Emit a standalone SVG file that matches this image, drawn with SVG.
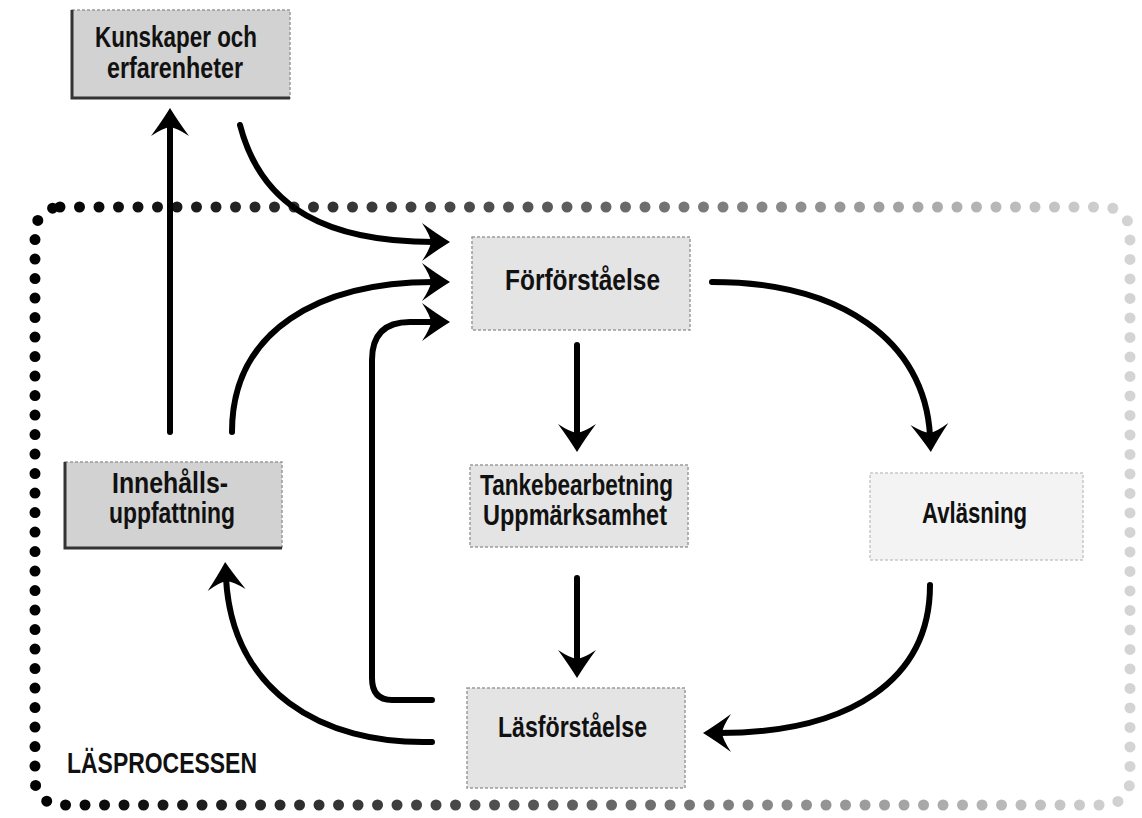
<svg xmlns="http://www.w3.org/2000/svg" width="1142" height="818" viewBox="0 0 1142 818">
  <style>
    .box { stroke: #9a9a9a; stroke-width: 1.5; stroke-dasharray: 3 2; }
    .dark { fill: #d2d2d2; }
    .mid { fill: #e4e4e4; }
    .light { fill: #f3f3f3; stroke: #c8c8c8; }
    .edge { stroke: #333; stroke-width: 3; fill: none; }
    .lbl { font-family: "Liberation Sans", Arial, sans-serif; font-weight: bold; font-size: 30px; fill: #111; }
    .conn { fill: none; stroke: #000; stroke-width: 6; stroke-linecap: round; stroke-linejoin: round; }
  </style>
  <defs>
    <linearGradient id="dotgrad" gradientUnits="userSpaceOnUse" x1="35" y1="0" x2="1130" y2="0">
      <stop offset="0" stop-color="#000"/>
      <stop offset="0.45" stop-color="#555"/>
      <stop offset="1" stop-color="#d4d4d4"/>
    </linearGradient>
    <marker id="dart" viewBox="-30 -22 36 44" markerWidth="36" markerHeight="44" refX="-12" refY="0" orient="auto" markerUnits="userSpaceOnUse">
      <path d="M4,0 Q-9,-8 -24,-19 Q-16,-7 -15,0 Q-16,7 -24,19 Q-9,8 4,0 Z" fill="#000"/>
    </marker>
  </defs>
  <rect width="1142" height="818" fill="#fff"/>

  <!-- dotted boundary -->
  <g id="boundary">
    <rect x="35" y="207" width="1095" height="598" rx="25" fill="none" stroke="url(#dotgrad)" stroke-width="11" stroke-linecap="round" stroke-dasharray="0 19.5"/>
    <text x="67" y="773" class="lbl" font-size="28" textLength="190" lengthAdjust="spacingAndGlyphs">LÄSPROCESSEN</text>
  </g>

  <g id="connectors">
    <path class="conn" marker-end="url(#dart)" d="M240,125 C262,210 330,242 434,242"/>
    <path class="conn" marker-end="url(#dart)" d="M232,432 C232,330 320,282 434,282"/>
    <path class="conn" marker-end="url(#dart)" d="M432,700 L392,700 Q372,700 372,678 L372,360 Q372,322 410,322 L434,322"/>
    <path class="conn" marker-end="url(#dart)" d="M170,432 L170,124"/>
    <path class="conn" marker-end="url(#dart)" d="M712,282 C840,282 925,340 930,436"/>
    <path class="conn" marker-end="url(#dart)" d="M577,345 L577,436"/>
    <path class="conn" marker-end="url(#dart)" d="M577,578 L577,662"/>
    <path class="conn" marker-end="url(#dart)" d="M930,585 C930,680 850,733 719,733"/>
    <path class="conn" marker-end="url(#dart)" d="M432,742 C320,745 232,690 226,578"/>
  </g>

  <g id="kunskaper">
    <rect class="box dark" x="72" y="10" width="218" height="88"/>
    <path class="edge" d="M72,10 L72,98 L290,98"/>
    <text class="lbl" x="95" y="47" textLength="162" lengthAdjust="spacingAndGlyphs">Kunskaper och</text>
    <text class="lbl" x="107" y="78" textLength="136" lengthAdjust="spacingAndGlyphs">erfarenheter</text>
  </g>

  <g id="forforstaelse">
    <rect class="box mid" x="472" y="237" width="218" height="93"/>
    <text class="lbl" x="505" y="290" font-size="28" textLength="155" lengthAdjust="spacingAndGlyphs">Förförståelse</text>
  </g>

  <g id="innehallsuppfattning">
    <rect class="box dark" x="65" y="462" width="217" height="86"/>
    <path class="edge" d="M65,462 L65,548 L282,548"/>
    <text class="lbl" x="112" y="493" font-size="25" textLength="116" lengthAdjust="spacingAndGlyphs">Innehålls-</text>
    <text class="lbl" x="109" y="523" font-size="25" textLength="126" lengthAdjust="spacingAndGlyphs">uppfattning</text>
  </g>

  <g id="tankebearbetning">
    <rect class="box mid" x="470" y="465" width="218" height="82"/>
    <text class="lbl" x="480" y="495" font-size="25" textLength="193" lengthAdjust="spacingAndGlyphs">Tankebearbetning</text>
    <text class="lbl" x="483" y="525" font-size="25" textLength="184" lengthAdjust="spacingAndGlyphs">Uppmärksamhet</text>
  </g>

  <g id="avlasning">
    <rect class="box light" x="870" y="473" width="213" height="87"/>
    <text class="lbl" x="922" y="523" font-size="28" textLength="105" lengthAdjust="spacingAndGlyphs">Avläsning</text>
  </g>

  <g id="lasforstaelse">
    <rect class="box mid" x="467" y="688" width="218" height="100"/>
    <text class="lbl" x="498" y="737" font-size="28" textLength="149" lengthAdjust="spacingAndGlyphs">Läsförståelse</text>
  </g>
</svg>
